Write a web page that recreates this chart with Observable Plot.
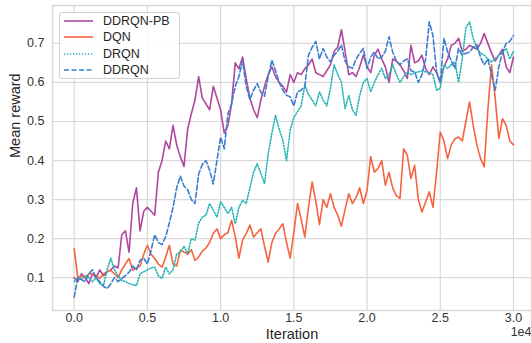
<!DOCTYPE html>
<html>
<head>
<meta charset="utf-8">
<script src="https://cdn.jsdelivr.net/npm/d3@7"></script>
<script src="https://cdn.jsdelivr.net/npm/@observablehq/plot@0.6"></script>
<style>
  html, body { margin: 0; padding: 0; background: #fff; }
  #wrap { position: relative; width: 531px; height: 343px; font-family: "Liberation Sans", Arial, sans-serif; }
  #legend { position: absolute; left: 59px; top: 12px; width: 121px; height: 67px; border: 1px solid #d0d0d0; border-radius: 3px; background: rgba(255,255,255,0.85); box-sizing: border-box; }
  .row { position: absolute; left: 0; height: 16px; display: flex; align-items: center; font-size: 12.5px; color: #262626; }
  .row svg { margin-left: 4px; margin-right: 10px; }
</style>
</head>
<body>
<div id="wrap"></div>
<script>
// x positions: iterations every 250 steps from 0 to 30000
const iterations = d3.range(0, 30001, 250);
const seriesNames = ["DDRQN-PB", "DQN", "DRQN", "DDRQN"];
const seriesColors = ["#b0479e", "#f5633f", "#27b4b6", "#3a7ed0"];
const xTicks = [0, 5000, 10000, 15000, 20000, 25000, 30000];
const xTickLabels = ["0.0", "0.5", "1.0", "1.5", "2.0", "2.5", "3.0"];
const yTicks = [0.1, 0.2, 0.3, 0.4, 0.5, 0.6, 0.7];
const yTickLabels = ["0.1", "0.2", "0.3", "0.4", "0.5", "0.6", "0.7"];

const ddrqnPB = [
0.10,0.09,0.11,0.10,0.085,0.11,0.10,0.12,0.105,0.115,
0.12,0.13,0.125,0.21,0.22,0.165,0.29,0.33,0.22,0.27,
0.28,0.27,0.26,0.37,0.40,0.45,0.43,0.49,0.44,0.41,
0.385,0.48,0.52,0.555,0.615,0.56,0.545,0.53,0.59,0.56,
0.53,0.47,0.49,0.545,0.65,0.635,0.665,0.61,0.56,0.53,
0.51,0.555,0.59,0.62,0.64,0.615,0.60,0.59,0.575,0.62,
0.60,0.625,0.62,0.635,0.645,0.66,0.625,0.62,0.615,0.63,
0.645,0.68,0.69,0.735,0.68,0.62,0.625,0.615,0.64,0.67,
0.64,0.625,0.67,0.685,0.66,0.64,0.60,0.66,0.655,0.645,
0.63,0.61,0.695,0.65,0.655,0.67,0.635,0.62,0.64,0.625,
0.60,0.64,0.66,0.695,0.70,0.713,0.68,0.685,0.695,0.69,
0.685,0.70,0.725,0.70,0.675,0.655,0.67,0.685,0.64,0.625,
0.665];

const dqn = [
0.174,0.10,0.105,0.10,0.11,0.11,0.105,0.098,0.11,0.115,
0.119,0.11,0.10,0.12,0.135,0.149,0.119,0.125,0.13,0.16,
0.183,0.16,0.149,0.135,0.127,0.153,0.183,0.135,0.13,0.17,
0.166,0.16,0.172,0.144,0.153,0.168,0.176,0.19,0.213,0.225,
0.20,0.21,0.215,0.247,0.205,0.15,0.196,0.213,0.235,0.204,
0.215,0.225,0.18,0.14,0.19,0.213,0.225,0.238,0.19,0.15,
0.215,0.29,0.25,0.204,0.28,0.345,0.296,0.236,0.30,0.28,
0.315,0.28,0.26,0.232,0.275,0.315,0.29,0.305,0.33,0.29,
0.324,0.41,0.37,0.38,0.40,0.337,0.37,0.33,0.31,0.303,
0.43,0.413,0.354,0.388,0.30,0.268,0.294,0.32,0.28,0.37,
0.473,0.45,0.405,0.44,0.456,0.46,0.45,0.50,0.55,0.49,
0.44,0.405,0.384,0.53,0.645,0.56,0.456,0.507,0.49,0.45,
0.44];

const drqn = [
0.09,0.10,0.095,0.105,0.10,0.09,0.10,0.085,0.08,0.12,
0.15,0.12,0.105,0.093,0.09,0.085,0.082,0.08,0.11,0.115,
0.12,0.125,0.127,0.105,0.098,0.127,0.11,0.12,0.16,0.166,
0.18,0.162,0.20,0.196,0.24,0.255,0.26,0.29,0.273,0.255,
0.294,0.28,0.264,0.28,0.238,0.28,0.298,0.29,0.33,0.37,
0.392,0.367,0.341,0.418,0.47,0.516,0.48,0.452,0.40,0.478,
0.51,0.525,0.54,0.593,0.57,0.555,0.54,0.576,0.555,0.54,
0.585,0.645,0.62,0.60,0.533,0.567,0.53,0.516,0.567,0.60,
0.61,0.576,0.60,0.62,0.636,0.61,0.62,0.645,0.62,0.60,
0.615,0.627,0.62,0.625,0.627,0.63,0.627,0.625,0.62,0.58,
0.585,0.645,0.636,0.645,0.653,0.60,0.66,0.74,0.755,0.713,
0.687,0.675,0.67,0.66,0.653,0.66,0.67,0.678,0.687,0.66,
0.68];

const ddrqn = [
0.05,0.10,0.095,0.09,0.11,0.12,0.10,0.09,0.078,0.072,
0.085,0.10,0.09,0.098,0.105,0.114,0.13,0.12,0.145,0.15,
0.135,0.17,0.21,0.19,0.185,0.205,0.24,0.28,0.33,0.36,
0.335,0.325,0.30,0.29,0.365,0.39,0.40,0.375,0.34,0.40,
0.46,0.43,0.52,0.545,0.59,0.615,0.655,0.59,0.556,0.58,
0.597,0.575,0.565,0.615,0.657,0.63,0.60,0.58,0.567,0.563,
0.54,0.576,0.58,0.59,0.67,0.69,0.705,0.66,0.687,0.665,
0.653,0.67,0.68,0.696,0.655,0.64,0.636,0.66,0.675,0.687,
0.636,0.665,0.678,0.66,0.665,0.68,0.717,0.678,0.655,0.645,
0.655,0.66,0.63,0.627,0.60,0.62,0.66,0.755,0.72,0.627,
0.60,0.713,0.678,0.655,0.636,0.687,0.67,0.675,0.678,0.69,
0.696,0.665,0.645,0.66,0.62,0.58,0.64,0.678,0.70,0.705,
0.72];

const seriesValues = [ddrqnPB, dqn, drqn, ddrqn];
const dashes = [null, null, "1.2,1.8", "5,2.5"];

const rows = [];
seriesNames.forEach((name, s) => {
  seriesValues[s].forEach((v, i) => rows.push({series: name, iteration: iterations[i], reward: v}));
});

const xDomain = [-1480, 31230];
const yDomain = [0.016, 0.797];
const gridColor = "#d9d9d9";
const textColor = "#333";

const lineMarks = seriesNames.map((name, s) => Plot.line(rows.filter(r => r.series === name), {
  x: "iteration", y: "reward", stroke: seriesColors[s], strokeWidth: 1.6,
  strokeDasharray: dashes[s] || undefined, strokeLinejoin: "round"
}));

const chart = Plot.plot({
  width: 531,
  height: 343,
  marginLeft: 52,
  marginRight: 0,
  marginTop: 5,
  marginBottom: 33,
  style: {fontFamily: "'Liberation Sans', Arial, sans-serif", fontSize: "12.5px", color: textColor, background: "#fff"},
  x: {domain: xDomain},
  y: {domain: yDomain},
  marks: [
    Plot.gridX(xTicks, {stroke: gridColor, strokeOpacity: 1, strokeWidth: 1.2}),
    Plot.gridY(yTicks, {stroke: gridColor, strokeOpacity: 1, strokeWidth: 1.2}),
    Plot.ruleX([xDomain[0]], {stroke: gridColor, strokeWidth: 1.4}),
    Plot.ruleY(yDomain, {stroke: gridColor, strokeWidth: 1.4}),
    Plot.axisX(xTicks, {tickSize: 0, tickPadding: 3, tickFormat: (d, i) => xTickLabels[i], label: null, fontSize: 12.5}),
    Plot.axisY(yTicks, {tickSize: 0, tickPadding: 8, tickFormat: (d, i) => yTickLabels[i], label: null, fontSize: 12.5}),
    ...lineMarks,
    Plot.text(["Iteration"], {frameAnchor: "bottom", lineAnchor: "middle", dy: 24, fontSize: 14.5, fill: "#262626"}),
    Plot.text(["Mean reward"], {frameAnchor: "left", lineAnchor: "middle", rotate: -90, dx: -37, fontSize: 14.5, fill: "#262626"}),
    Plot.text(["1e4"], {frameAnchor: "bottom-right", lineAnchor: "middle", dy: 21, dx: 0, textAnchor: "end", fontSize: 12.5, fill: textColor})
  ]
});

const wrap = document.getElementById("wrap");
wrap.appendChild(chart);

// legend
const legend = document.createElement("div");
legend.id = "legend";
const rowTops = [0, 16, 33, 49];
seriesNames.forEach((name, s) => {
  const r = document.createElement("div");
  r.className = "row";
  r.style.top = rowTops[s] + "px";
  r.innerHTML = `<svg width="29" height="4"><line x1="0" y1="2" x2="29" y2="2" stroke="${seriesColors[s]}" stroke-width="1.6" ${dashes[s] ? `stroke-dasharray="${dashes[s]}"` : ""}/></svg><span>${name}</span>`;
  legend.appendChild(r);
});
wrap.appendChild(legend);
</script>
</body>
</html>
